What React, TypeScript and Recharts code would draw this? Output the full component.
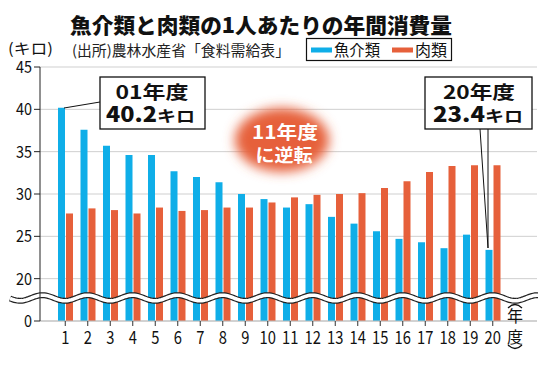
import { Bar, BarChart, CartesianGrid, ReferenceLine, XAxis, YAxis } from "recharts"

// fiscal years 2001..2020, kg per person
const years = ["1", "2", "3", "4", "5", "6", "7", "8", "9", "10", "11", "12", "13", "14", "15", "16", "17", "18", "19", "20"]
const fish = [40.2, 37.6, 35.7, 34.6, 34.6, 32.7, 32.0, 31.4, 30.0, 29.4, 28.4, 28.8, 27.3, 26.5, 25.6, 24.7, 24.3, 23.6, 25.2, 23.4]
const meat = [27.7, 28.3, 28.1, 27.7, 28.4, 28.0, 28.1, 28.4, 28.4, 29.0, 29.6, 29.9, 30.0, 30.1, 30.7, 31.5, 32.6, 33.3, 33.4, 33.4]
const yTicks = [0, 20, 25, 30, 35, 40, 45]

// axis is broken between 0 and 20: 0 sits where 15 would be
const BREAK_OFFSET = 15
const toPlot = (v: number) => (v === 0 ? 0 : v - BREAK_OFFSET)
const fromPlot = (v: number) => (v === 0 ? 0 : v + BREAK_OFFSET)

const data = years.map((y, i) => ({
  year: y,
  fish: toPlot(fish[i]),
  meat: toPlot(meat[i]),
}))

const BLUE = "#0faee8"
const ORANGE = "#e6603b"
const FONT = "'Noto Sans CJK JP', 'Noto Sans', sans-serif"

const XTick = (props: any) => {
  const { x, y, payload } = props
  return (
    <g transform={`translate(${x},${y})`}>
      <text transform='scale(0.82,1)' textAnchor='middle' y={16} fontSize={18} fill='#111' fontFamily={FONT}>
        {payload.value}
      </text>
    </g>
  )
}

const YTick = (props: any) => {
  const { x, y, payload } = props
  return (
    <g transform={`translate(${x},${y})`}>
      <text transform='scale(0.85,1)' textAnchor='end' y={6} fontSize={17} fill='#111' fontFamily={FONT}>
        {fromPlot(payload.value)}
      </text>
    </g>
  )
}

// wavy double line that marks the axis break
const WaveBreak = (props: any) => {
  const { x1, x2, y1 } = props
  const period = 45
  const amp = 2.8
  let d = ""
  for (let x = x1 - 30; x <= x2 + 1; x += 1.5) {
    const yy = y1 - amp * Math.cos((2 * Math.PI * (x - x1 - 2.5)) / period)
    d += `${d ? "L" : "M"}${x.toFixed(1)},${yy.toFixed(2)}`
  }
  return (
    <g>
      <path d={d} fill='none' stroke='#222' strokeWidth={6} />
      <path d={d} fill='none' stroke='#fff' strokeWidth={3.6} />
    </g>
  )
}

const App = () => {
  return (
    <div style={{ position: "absolute", left: 0, top: 0, width: 550, height: 368, background: "#fff" }}>
      <BarChart
        width={550}
        height={368}
        data={data}
        margin={{ top: 67, right: 13, bottom: 17, left: 0 }}
        barSize={7}
        barGap={1}
      >
        <CartesianGrid vertical={false} stroke='#cfcfcf' />
        <XAxis
          dataKey='year'
          height={30}
          padding={{ left: 14, right: 33 }}
          axisLine={{ stroke: "#bdbdbd" }}
          tickLine={{ stroke: "#333" }}
          tickSize={5}
          tick={<XTick />}
          interval={0}
        />
        <YAxis
          width={40}
          domain={[0, 30]}
          ticks={yTicks.map(toPlot)}
          axisLine={{ stroke: "#222" }}
          tickLine={{ stroke: "#222" }}
          tickSize={6}
          tickMargin={2}
          tick={<YTick />}
          interval={0}
        />
        <Bar dataKey='fish' fill={BLUE} isAnimationActive={false} />
        <Bar dataKey='meat' fill={ORANGE} isAnimationActive={false} />
        <ReferenceLine y={2.72} shape={<WaveBreak />} ifOverflow='visible' />
      </BarChart>

      <svg
        width={550}
        height={368}
        style={{ position: "absolute", left: 0, top: 0, pointerEvents: "none" }}
        fontFamily={FONT}
      >
        <defs>
          <filter id='soft' x='-50%' y='-50%' width='200%' height='200%'>
            <feGaussianBlur stdDeviation='6' />
          </filter>
        </defs>

        <text x={261} y={33} textAnchor='middle' fontSize={21} fontWeight={900} fill='#111' textLength={382} lengthAdjust='spacingAndGlyphs'>
          魚介類と肉類の1人あたりの年間消費量
        </text>
        <text x={8} y={54} fontSize={15} fill='#111' textLength={45} lengthAdjust='spacingAndGlyphs'>
          (キロ)
        </text>
        <text x={72} y={56} fontSize={14.5} fill='#222' textLength={218} lengthAdjust='spacingAndGlyphs'>
          (出所)農林水産省「食料需給表」
        </text>

        {/* legend */}
        <rect x={306.5} y={38.5} width={145} height={22} fill='#fff' stroke='#111' strokeWidth={1.2} />
        <rect x={311} y={47.5} width={21} height={5} fill={BLUE} />
        <text x={334} y={56} fontSize={15.5} fill='#111' textLength={46} lengthAdjust='spacingAndGlyphs'>
          魚介類
        </text>
        <rect x={392} y={47.5} width={21} height={5} fill={ORANGE} />
        <text x={415} y={56} fontSize={15.5} fill='#111' textLength={32} lengthAdjust='spacingAndGlyphs'>
          肉類
        </text>

        {/* reversal bubble */}
        <ellipse cx={282} cy={140} rx={47} ry={32} fill={ORANGE} filter='url(#soft)' />
        <text x={285} y={139} textAnchor='middle' fontSize={18} fontWeight={700} fill='#fff' textLength={66} lengthAdjust='spacingAndGlyphs'>
          11年度
        </text>
        <text x={284} y={162} textAnchor='middle' fontSize={18} fontWeight={700} fill='#fff' textLength={57} lengthAdjust='spacingAndGlyphs'>
          に逆転
        </text>

        {/* callout 2001 */}
        <line x1={100} y1={102} x2={64} y2={108} stroke='#111' strokeWidth={1} />
        <rect x={100} y={77} width={105} height={52} fill='#fff' stroke='#111' strokeWidth={1.3} />
        <text x={152} y={99} textAnchor='middle' fontSize={18} fontWeight={700} fill='#111' textLength={73} lengthAdjust='spacingAndGlyphs'>
          01年度
        </text>
        <text x={106} y={122} fontWeight={900} fill='#111'>
          <tspan fontSize={21} textLength={51} lengthAdjust='spacingAndGlyphs'>40.2</tspan>
          <tspan fontSize={16} fontWeight={700} textLength={38} lengthAdjust='spacingAndGlyphs'>キロ</tspan>
        </text>

        {/* callout 2020 */}
        <line x1={480} y1={129} x2={488} y2={248} stroke='#111' strokeWidth={1} />
        <line x1={488} y1={129} x2={488} y2={248} stroke='#111' strokeWidth={1} />
        <rect x={425} y={77} width={107} height={52} fill='#fff' stroke='#111' strokeWidth={1.3} />
        <text x={479} y={99} textAnchor='middle' fontSize={18} fontWeight={700} fill='#111' textLength={72} lengthAdjust='spacingAndGlyphs'>
          20年度
        </text>
        <text x={433} y={122} fontWeight={900} fill='#111'>
          <tspan fontSize={21} textLength={52} lengthAdjust='spacingAndGlyphs'>23.4</tspan>
          <tspan fontSize={16} fontWeight={700} textLength={38} lengthAdjust='spacingAndGlyphs'>キロ</tspan>
        </text>

        {/* vertical 年度 label */}
        <path d='M508,308 Q515,301 522,308' fill='none' stroke='#111' strokeWidth={1.2} />
        <text x={515} y={322} textAnchor='middle' fontSize={16} fill='#111'>年</text>
        <text x={515} y={343} textAnchor='middle' fontSize={16} fill='#111'>度</text>
        <path d='M508,345 Q515,352 522,345' fill='none' stroke='#111' strokeWidth={1.2} />
      </svg>
    </div>
  )
}

export default App
